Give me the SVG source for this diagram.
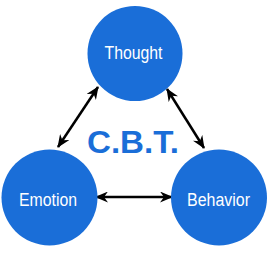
<svg xmlns="http://www.w3.org/2000/svg" width="270" height="253" viewBox="0 0 270 253">
<defs>
<style>
.node{fill:#1a6ed8;}
.lbl{fill:#ffffff;font-family:"Liberation Sans",Arial,sans-serif;font-size:18px;text-anchor:middle;}
.title{fill:#1a6ed8;font-family:"Liberation Sans",Arial,sans-serif;font-size:32px;font-weight:bold;text-anchor:middle;}
.conn{stroke:#000;stroke-width:2.5;fill:none;marker-start:url(#ah);marker-end:url(#ah);}
</style>
<marker id="ah" viewBox="0 0 13 11" refX="12" refY="5.5" markerWidth="13" markerHeight="11" markerUnits="userSpaceOnUse" orient="auto-start-reverse">
<path d="M0,0 L13,5.5 L0,11 L4,5.5 z" fill="#000"/>
</marker>
</defs>
<rect width="270" height="253" fill="#ffffff"/>
<g id="connectors">
<line class="conn" x1="58" y1="147" x2="98" y2="87"/>
<line class="conn" x1="167" y1="89" x2="204" y2="148"/>
<line class="conn" x1="96" y1="197" x2="172" y2="197"/>
</g>
<g id="thought">
<circle class="node" cx="135" cy="53.5" r="47.5"/>
<text class="lbl" x="133.5" y="59" textLength="58" lengthAdjust="spacingAndGlyphs">Thought</text>
</g>
<g id="emotion">
<circle class="node" cx="49.5" cy="197.5" r="48"/>
<text class="lbl" x="48" y="206" textLength="58" lengthAdjust="spacingAndGlyphs">Emotion</text>
</g>
<g id="behavior">
<circle class="node" cx="219" cy="197.5" r="48"/>
<text class="lbl" x="218.5" y="206" textLength="63" lengthAdjust="spacingAndGlyphs">Behavior</text>
</g>
<text class="title" x="133" y="153" textLength="92" lengthAdjust="spacingAndGlyphs">C.B.T.</text>
</svg>
